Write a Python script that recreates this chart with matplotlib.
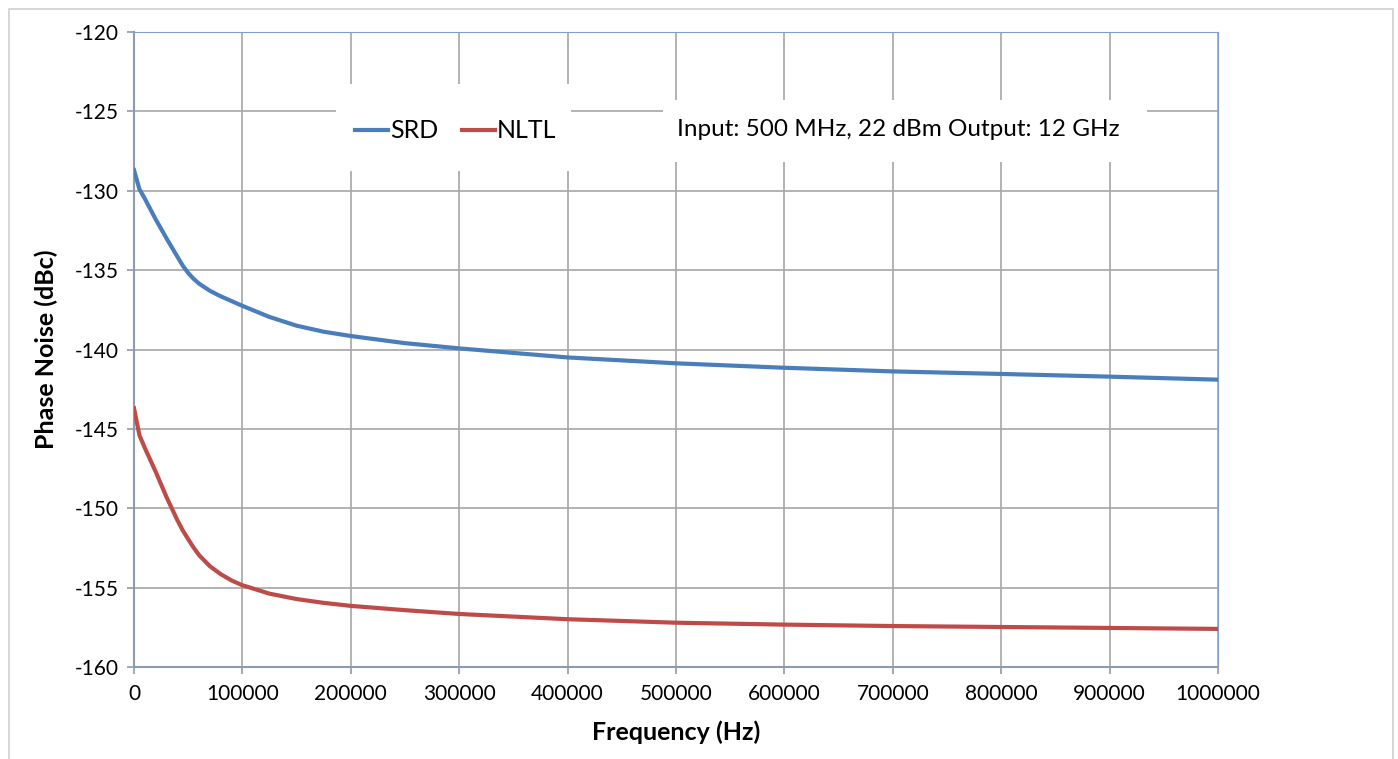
import matplotlib
matplotlib.use("Agg")
import matplotlib.pyplot as plt
from matplotlib.patches import Rectangle
from matplotlib.lines import Line2D

# values
freq = [0, 5000, 10000, 20000, 30000, 40000, 45000, 50000, 55000, 60000,
        70000, 80000, 90000, 100000, 125000, 150000, 175000, 200000, 250000,
        300000, 400000, 500000, 600000, 700000, 800000, 900000, 1000000]
srd = [-128.7, -129.9, -130.5, -131.8, -133.0, -134.15, -134.72, -135.18,
       -135.55, -135.85, -136.3, -136.65, -136.95, -137.25, -137.95, -138.5,
       -138.88, -139.15, -139.6, -139.93, -140.5, -140.87, -141.15, -141.38,
       -141.54, -141.71, -141.9]
nltl = [-143.7, -145.4, -146.2, -147.7, -149.3, -150.75, -151.4, -151.95,
        -152.48, -152.95, -153.65, -154.15, -154.55, -154.85, -155.38,
        -155.72, -155.96, -156.15, -156.42, -156.66, -156.99, -157.21,
        -157.33, -157.42, -157.48, -157.54, -157.6]
x_ticks = list(range(0, 1000001, 100000))
y_ticks = list(range(-160, -119, 5))
note = "Input: 500 MHz, 22 dBm Output: 12 GHz"

plt.rcParams['font.family'] = ['Lato', 'DejaVu Sans']
plt.rcParams['axes.unicode_minus'] = False

W, H = 1398, 759
fig = plt.figure(figsize=(W / 100, H / 100), dpi=100)
ax = fig.add_axes([134 / W, 1 - 667 / H, (1218 - 134) / W, (667 - 32) / H])

blue = '#4A7EBB'
red = '#BE4B48'
ax.plot(freq, srd, color=blue, lw=3.0, solid_joinstyle='round', zorder=3)
ax.plot(freq, nltl, color=red, lw=3.0, solid_joinstyle='round', zorder=3)

ax.set_xlim(0, 1000000)
ax.set_ylim(-160, -120)
ax.set_xticks(x_ticks)
ax.set_xticklabels([str(v) for v in x_ticks])
ax.set_yticks(y_ticks)
ax.grid(True, color='#A6A6A6', lw=1.2, zorder=0)
ax.set_axisbelow(True)

ax.spines['left'].set_color('#8C9BB0')
ax.spines['bottom'].set_color('#8C9BB0')
ax.spines['left'].set_linewidth(1.5)
ax.spines['bottom'].set_linewidth(1.5)
ax.spines['top'].set_color('#7F9FCF')
ax.spines['right'].set_color('#7F9FCF')
ax.spines['top'].set_linewidth(0.8)
ax.spines['right'].set_linewidth(0.8)
ax.tick_params(axis='both', direction='out', colors='#8C9BB0', labelcolor='black',
               labelsize=15, length=5, width=1.2)
ax.tick_params(axis='y', pad=6)
ax.tick_params(axis='x', pad=7)

ax.set_xlabel('Frequency (Hz)', fontsize=18, fontweight='bold', labelpad=12)
ax.set_ylabel('Phase Noise (dBc)', fontsize=18, fontweight='bold', labelpad=12)

# white legend box and note box covering the grid
def px_box(x0, y0, x1, y1):
    fx0, fx1 = x0 / W, x1 / W
    fy0, fy1 = 1 - y1 / H, 1 - y0 / H
    fig.add_artist(Rectangle((fx0, fy0), fx1 - fx0, fy1 - fy0,
                             transform=fig.transFigure, facecolor='white',
                             edgecolor='none', zorder=4))

px_box(336, 84, 571, 171)
px_box(663, 100, 1147, 162)

yc = 1 - 130 / H
fig.add_artist(Line2D([355 / W, 388 / W], [yc, yc], color=blue, lw=3.0, zorder=5))
fig.text(390 / W, yc, 'SRD', fontsize=18, va='center', ha='left', zorder=6)
fig.add_artist(Line2D([462 / W, 495 / W], [yc, yc], color=red, lw=3.0, zorder=5))
fig.text(497 / W, yc, 'NLTL', fontsize=18, va='center', ha='left', zorder=6)
fig.text(677 / W, yc, note, fontsize=17.5, va='center', ha='left', zorder=6)

# outer chart border
fig.add_artist(Rectangle((9 / W, -0.1), (1393 - 9) / W, 1.1 - 9 / H,
                         transform=fig.transFigure, facecolor='none',
                         edgecolor='#D0D0D0', lw=1.2, zorder=1))

fig.savefig('out.png', dpi=100)
